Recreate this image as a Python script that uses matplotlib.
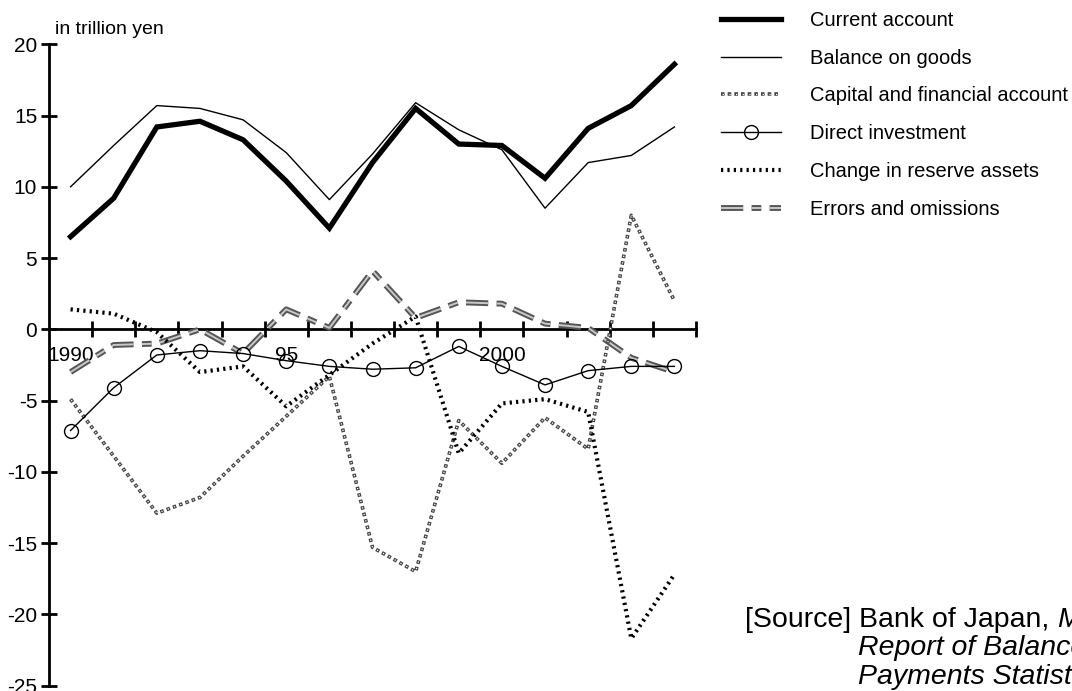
import matplotlib
matplotlib.use("Agg")
import matplotlib.pyplot as plt
from matplotlib.legend_handler import HandlerTuple

plt.rcParams['font.family'] = ['Liberation Sans', 'DejaVu Sans']
plt.rcParams['lines.scale_dashes'] = False

years = list(range(1990, 2005))
current_account = [6.5, 9.2, 14.2, 14.6, 13.3, 10.4, 7.1, 11.7, 15.5, 13.0, 12.9, 10.6, 14.1, 15.7, 18.6]
balance_goods = [10.0, 12.9, 15.7, 15.5, 14.7, 12.4, 9.1, 12.3, 15.9, 14.0, 12.6, 8.5, 11.7, 12.2, 14.2]
capital_financial = [-4.9, -8.9, -12.9, -11.8, -8.9, -6.1, -3.3, -15.3, -17.0, -6.4, -9.4, -6.2, -8.4, 8.0, 2.0]
direct_investment = [-7.1, -4.1, -1.8, -1.5, -1.7, -2.2, -2.6, -2.8, -2.7, -1.2, -2.6, -3.9, -2.9, -2.6, -2.6]
reserve_change = [1.4, 1.1, -0.2, -3.0, -2.6, -5.4, -3.2, -1.0, 0.9, -8.7, -5.2, -4.9, -5.8, -21.7, -17.2]
errors_omissions = [-3.0, -1.1, -1.0, 0.0, -1.7, 1.4, 0.1, 4.1, 0.8, 1.9, 1.8, 0.4, 0.1, -2.0, -3.0]

series_labels = ["Current account", "Balance on goods", "Capital and financial account",
                 "Direct investment", "Change in reserve assets", "Errors and omissions"]
ytick_values = [20, 15, 10, 5, 0, -5, -10, -15, -20, -25]
ytick_labels = ["20", "15", "10", "5", "0", "-5", "-10", "-15", "-20", "-25"]
xlabel_years = [1990, 1995, 2000]
xlabel_texts = ["1990", "95", "2000"]

fig = plt.figure(figsize=(10.72, 6.91), dpi=100)
ax = fig.add_axes([49 / 1072, 1 - 685.6 / 691, (696 - 49) / 1072, (685.6 - 44.3) / 691])

ax.set_xlim(years[0] - 0.5, years[-1] + 0.5)
ax.set_ylim(-25, 20)

l_ca, = ax.plot(years, current_account, color='black', lw=3.8, solid_joinstyle='miter', zorder=5)
l_g, = ax.plot(years, balance_goods, color='black', lw=1.0, zorder=5)
l_cf1, = ax.plot(years, capital_financial, color='#444444', lw=2.6, dashes=(2.6, 2.2), zorder=4)
l_cf2, = ax.plot(years, capital_financial, color='white', lw=0.9, zorder=4)
l_cf2.set_linestyle((-0.85, (0.9, 3.9)))
l_di, = ax.plot(years, direct_investment, color='black', lw=1.0, marker='o', markersize=10,
                markerfacecolor='none', markeredgecolor='black', markeredgewidth=1.0, zorder=6)
l_rs, = ax.plot(years, reserve_change, color='black', lw=3.0, dashes=(1.6, 3.0), zorder=5)
l_eo1, = ax.plot(years, errors_omissions, color='#555555', lw=4.2, dashes=(16, 6, 7, 6), zorder=3)
l_eo2, = ax.plot(years, errors_omissions, color='#c8c8c8', lw=1.4, dashes=(16, 6, 7, 6), zorder=3)

for s in ['top', 'right']:
    ax.spines[s].set_visible(False)
ax.spines['bottom'].set_position(('data', 0))
ax.spines['left'].set_linewidth(2.0)
ax.spines['bottom'].set_linewidth(2.0)

ax.set_yticks(ytick_values)
ax.set_yticklabels(ytick_labels, fontsize=15)
ax.tick_params(axis='y', direction='inout', length=11, width=2.0, pad=3)

ax.set_xticks([y + 0.5 for y in years])
ax.set_xticklabels([])
ax.tick_params(axis='x', which='major', direction='inout', length=11, width=2.0)
ax.set_xticks(xlabel_years, minor=True)
ax.set_xticklabels(xlabel_texts, minor=True, fontsize=15)
ax.tick_params(axis='x', which='minor', length=0, pad=12)

fig.text(55 / 1072, 1 - 29 / 691, "in trillion yen", fontsize=14, va='center', ha='left')

handles = [l_ca, l_g, (l_cf1, l_cf2), l_di, l_rs, (l_eo1, l_eo2)]
fig.legend(handles, series_labels, loc='upper left', bbox_to_anchor=(721 / 1072, 1 - 11 / 691),
           frameon=False, fontsize=14.5, handlelength=3.0, handletextpad=1.4, labelspacing=0.93,
           borderpad=0, borderaxespad=0, numpoints=1,
           handler_map={tuple: HandlerTuple(ndivide=1)})

t1 = fig.text(745 / 1072, 1 - 620 / 691, "[Source] Bank of Japan, ", fontsize=20.5, va='center', ha='left')
fig.canvas.draw()
bb = t1.get_window_extent()
fig.text(bb.x1 / 1072, 1 - 620 / 691, "Monthly", fontsize=20.5, va='center', ha='left', style='italic')
fig.text(858 / 1072, 1 - 648 / 691, "Report of Balance of", fontsize=20.5, va='center', ha='left', style='italic')
fig.text(858 / 1072, 1 - 677 / 691, "Payments Statistics", fontsize=20.5, va='center', ha='left', style='italic')

fig.savefig("out.png", dpi=100)
